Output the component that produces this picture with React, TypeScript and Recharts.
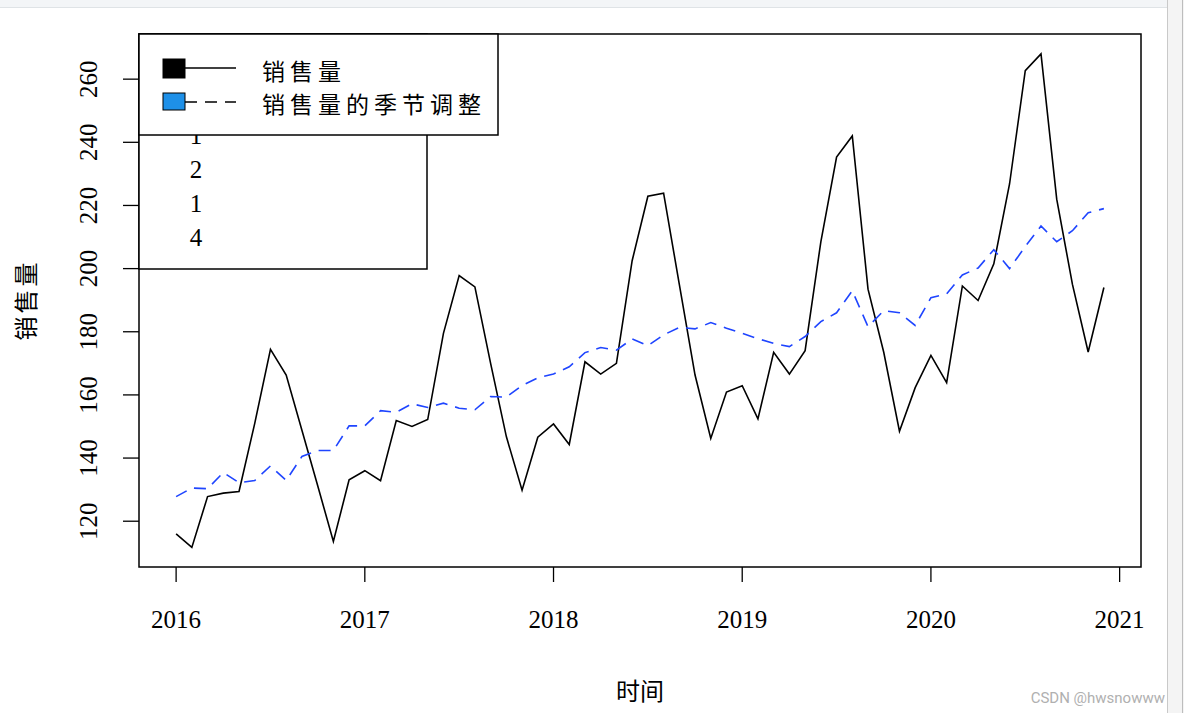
import { LineChart, Line, XAxis, YAxis } from 'recharts';

// monthly series, Jan 2016 .. Dec 2020
const startYear = 2016;
const sales = [
  116, 111.7, 127.8, 128.9, 129.4, 151, 174.4, 166.3, 148.8, 131.3, 113.6, 133.1,
  136, 132.8, 151.9, 150, 152.2, 179.5, 197.8, 194.2, 170, 146.8, 129.8, 146.6,
  150.8, 144.3, 170.5, 166.6, 170, 202.5, 222.9, 223.9, 195, 166.3, 146.2, 160.9,
  162.9, 152.4, 173.5, 166.6, 174, 208.5, 235.3, 242, 193.5, 173.5, 148.5, 162.3,
  172.5, 163.9, 194.5, 189.9, 201.5, 226.8, 262.7, 268, 222, 195, 173.6, 194,
];
const salesAdjusted = [
  127.8, 130.5, 130.3, 135.4, 132.2, 132.9, 137.5, 132.9, 140.5, 142.4, 142.4, 150.2,
  150.2, 155, 154.5, 157.2, 156, 157.4, 155.8, 155.3, 159.5, 159.3, 163, 165.4,
  166.6, 168.9, 173.4, 175, 174.2, 177.7, 175.6, 179, 181.4, 180.9, 182.9, 181.1,
  179.5, 177.8, 176.3, 175.3, 178.5, 183.2, 186, 193, 181.6, 186.7, 186, 182,
  190.8, 192, 198, 200.2, 206, 200, 207, 213.5, 208.5, 212, 217.7, 219,
];
const xTicks = [2016, 2017, 2018, 2019, 2020, 2021];
const yTicks = [120, 140, 160, 180, 200, 220, 240, 260];
const legendLabels = ['销售量', '销售量的季节调整'];
const hiddenLegendLabels = ['1', '2', '1', '4'];

const data = sales.map((v, i) => ({
  t: startYear + i / 12,
  sales: v,
  adjusted: salesAdjusted[i],
}));

const W = 1184;
const H = 713;
const PLOT = { left: 139, top: 34, right: 1141, bottom: 567 };
const SERIF = '"Liberation Serif", "DejaVu Serif", serif';
const CJK = '"Noto Sans CJK SC", sans-serif';

const XTick = ({ x, y, payload }: any) => (
  <text x={x} y={y + 46} textAnchor="middle" fontFamily={SERIF} fontSize={25} fill="#000">
    {payload.value}
  </text>
);

const YTick = ({ x, y, payload }: any) => (
  <text
    x={x}
    y={y}
    textAnchor="middle"
    transform={`rotate(-90, ${x}, ${y})`}
    fontFamily={SERIF}
    fontSize={25}
    fill="#000"
  >
    {payload.value}
  </text>
);

export default function App() {
  return (
    <div style={{ position: 'absolute', left: 0, top: 0, width: W, height: H, background: '#fff' }}>
      <LineChart
        width={W}
        height={H}
        data={data}
        margin={{ top: PLOT.top, right: W - PLOT.right, bottom: H - PLOT.bottom - 60, left: PLOT.left - 60 }}
      >
        <XAxis
          dataKey="t"
          type="number"
          domain={[2015.8033, 2021.1133]}
          ticks={xTicks}
          allowDataOverflow
          axisLine={false}
          tickLine={{ stroke: '#000', strokeWidth: 1.3 }}
          tickSize={15}
          tickMargin={0}
          height={60}
          tick={<XTick />}
        />
        <YAxis
          type="number"
          domain={[105.5, 274.3]}
          ticks={yTicks}
          allowDataOverflow
          axisLine={false}
          tickLine={{ stroke: '#000', strokeWidth: 1.3 }}
          tickSize={16}
          tickMargin={26}
          width={60}
          tick={<YTick />}
        />
        <Line
          dataKey="sales"
          stroke="#000"
          strokeWidth={1.6}
          dot={false}
          isAnimationActive={false}
        />
        <Line
          dataKey="adjusted"
          stroke="#1f45ff"
          strokeWidth={1.6}
          strokeDasharray="12 8"
          dot={false}
          isAnimationActive={false}
        />
      </LineChart>

      <svg
        width={W}
        height={H}
        style={{ position: 'absolute', left: 0, top: 0, pointerEvents: 'none' }}
      >
        {/* window chrome */}
        <rect x={0} y={0} width={W} height={7} fill="#f3f5f7" />
        <line x1={0} y1={7.5} x2={W} y2={7.5} stroke="#dfe3e6" />
        <rect x={1167} y={0} width={17} height={H} fill="#f4f4f4" />
        <line x1={1167.5} y1={0} x2={1167.5} y2={H} stroke="#c9c9c9" />
        <line x1={1182.5} y1={0} x2={1182.5} y2={H} stroke="#bdbdbd" />

        {/* plot box */}
        <rect
          x={PLOT.left}
          y={PLOT.top}
          width={PLOT.right - PLOT.left}
          height={PLOT.bottom - PLOT.top}
          fill="none"
          stroke="#000"
          strokeWidth={1.5}
        />

        {/* earlier legend, left underneath */}
        <rect x={PLOT.left} y={PLOT.top} width={427 - PLOT.left} height={269 - PLOT.top} fill="#fff" stroke="#000" strokeWidth={1.5} />
        {hiddenLegendLabels.map((s, i) => (
          <text key={i} x={196} y={135 + i * 34} dominantBaseline="central" textAnchor="middle" fontFamily={SERIF} fontSize={25} fill="#000">
            {s}
          </text>
        ))}

        {/* legend */}
        <rect x={PLOT.left} y={PLOT.top} width={498 - PLOT.left} height={135 - PLOT.top} fill="#fff" stroke="#000" strokeWidth={1.5} />
        <line x1={185} y1={68} x2={236} y2={68} stroke="#000" strokeWidth={1.5} />
        <rect x={163} y={59} width={22} height={19} fill="#000" stroke="#000" />
        <line x1={185} y1={102} x2={236} y2={102} stroke="#000" strokeWidth={1.5} strokeDasharray="12 8" />
        <rect x={163} y={93} width={22} height={17} fill="#1e90e8" stroke="#000" />
        {legendLabels.map((s, i) => (
          <text key={s} x={262} y={70 + i * 33} dominantBaseline="central" fontFamily={CJK} fontSize={23} letterSpacing={5} fill="#000">
            {s}
          </text>
        ))}

        {/* axis titles */}
        <text x={640} y={689} textAnchor="middle" dominantBaseline="central" fontFamily={CJK} fontSize={24} fill="#000">
          时间
        </text>
        <text
          x={24}
          y={300}
          textAnchor="middle"
          dominantBaseline="central"
          transform="rotate(-90, 24, 300)"
          fontFamily={CJK}
          fontSize={24}
          letterSpacing={3}
          fill="#000"
        >
          销售量
        </text>

        <text x={1165} y={703} textAnchor="end" fontFamily="Roboto, sans-serif" fontSize={15} fill="#b0b0b0">
          CSDN @hwsnowww
        </text>
      </svg>
    </div>
  );
}
